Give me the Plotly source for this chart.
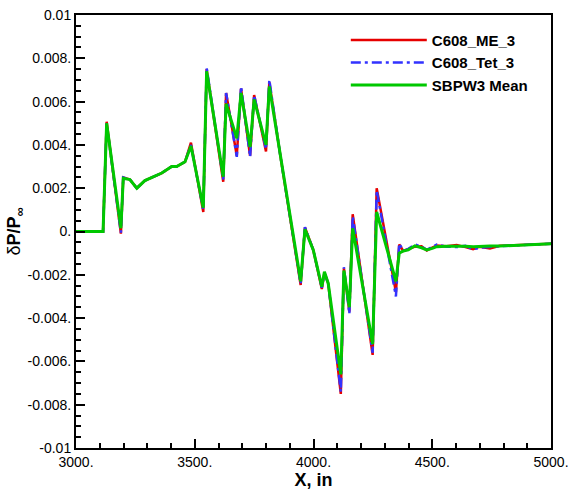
import plotly.graph_objects as go

# ---- data ----
x_pos = [3000, 3114, 3129, 3189, 3199, 3227, 3256, 3290, 3361, 3403,
         3424, 3459, 3484, 3536, 3550, 3620, 3632, 3677, 3695, 3733,
         3750, 3800, 3814, 3859, 3946, 3964, 3999, 4035, 4046, 4062,
         4115, 4128, 4151, 4165, 4249, 4266, 4347, 4361, 4378, 4399,
         4427, 4455, 4477, 4500, 4519, 4560, 4603, 4640, 4672, 4700,
         4743, 4785, 4850, 4900, 4950, 5000]

dp_me = [0, 0, 0.00507, -0.0001, 0.0025, 0.0024, 0.0020, 0.00235, 0.0027, 0.0030,
         0.0030, 0.00322, 0.0041, 0.0009, 0.0075, 0.0023, 0.0064, 0.0035, 0.0066, 0.0035,
         0.0063, 0.0037, 0.0069, 0.0036, -0.00247, 0.00019, -0.00085, -0.00266, -0.0019, -0.0024,
         -0.0075, -0.0017, -0.0037, 0.0008, -0.0057, 0.0020, -0.0028, -0.0006, -0.0009, -0.0008,
         -0.0007, -0.00068, -0.00088, -0.00075, -0.00065, -0.00068, -0.00062, -0.00072, -0.00082, -0.0007,
         -0.00078, -0.00066, -0.00064, -0.00062, -0.0006, -0.00057]

dp_tet = [0, 0, 0.0050, -0.00005, 0.0025, 0.0024, 0.0020, 0.00235, 0.0027, 0.0030,
          0.0030, 0.00322, 0.0040, 0.0010, 0.00757, 0.0024, 0.0064, 0.00345, 0.0067, 0.00345,
          0.0063, 0.0038, 0.0070, 0.0036, -0.0024, 0.0002, -0.00085, -0.0026, -0.0019, -0.0024,
          -0.0074, -0.00165, -0.0038, 0.0007, -0.0056, 0.0019, -0.0030, -0.00055, -0.0009, -0.0008,
          -0.0006, -0.0007, -0.00085, -0.0007, -0.0006, -0.0007, -0.00072, -0.00066, -0.00082, -0.00075,
          -0.0007, -0.00068, -0.00064, -0.00062, -0.0006, -0.00057]

dp_mean = [0, 0, 0.0050, 0.00015, 0.00246, 0.0024, 0.0020, 0.00235, 0.0027, 0.0030,
           0.0030, 0.00322, 0.00395, 0.0011, 0.0074, 0.00253, 0.0059, 0.0043, 0.0064, 0.0039,
           0.0061, 0.0040, 0.0067, 0.0036, -0.0023, 0.0001, -0.00085, -0.00255, -0.00186, -0.0024,
           -0.0066, -0.0018, -0.0035, 0.00015, -0.0052, 0.0009, -0.0023, -0.0010, -0.0009, -0.00085,
           -0.00066, -0.00075, -0.00085, -0.00078, -0.0007, -0.00068, -0.00067, -0.00068, -0.0007, -0.00068,
           -0.00067, -0.00067, -0.00064, -0.00062, -0.0006, -0.00057]

series_names = ["C608_ME_3", "C608_Tet_3", "SBPW3 Mean"]

x_tickvals = [3000, 3500, 4000, 4500, 5000]
x_ticktext = ["3000.", "3500.", "4000.", "4500.", "5000."]
y_tickvals = [-0.01, -0.008, -0.006, -0.004, -0.002, 0, 0.002, 0.004, 0.006, 0.008, 0.01]
y_ticktext = ["-0.01", "-0.008.", "-0.006.", "-0.004.", "-0.002.", "0.",
              "0.002.", "0.004.", "0.006.", "0.008.", "0.01"]

FONT = "Liberation Sans, Arial, sans-serif"

fig = go.Figure()
fig.add_trace(go.Scatter(x=x_pos, y=dp_me, mode="lines", name=series_names[0],
                         line=dict(color="#e60000", width=2.5)))
fig.add_trace(go.Scatter(x=x_pos, y=dp_tet, mode="lines", name=series_names[1],
                         line=dict(color="#3232ff", width=2.5, dash="10px,4px,3px,4px")))
fig.add_trace(go.Scatter(x=x_pos, y=dp_mean, mode="lines", name=series_names[2],
                         line=dict(color="#00c800", width=3)))

fig.update_layout(
    width=570, height=491,
    margin=dict(l=76, r=19, t=15, b=43),
    paper_bgcolor="white", plot_bgcolor="white",
    font=dict(family=FONT, size=14, color="black"),
    legend=dict(x=0.568, y=0.98, xanchor="left", yanchor="top",
                bgcolor="rgba(0,0,0,0)", borderwidth=0,
                font=dict(family=FONT, size=15, weight="bold"),
                itemwidth=76, tracegroupgap=0),
    xaxis=dict(range=[3000, 5000], tickmode="array", tickvals=x_tickvals, ticktext=x_ticktext,
               ticks="inside", ticklen=9, tickwidth=1.5, tickcolor="black",
               minor=dict(ticks="inside", dtick=100, ticklen=5, tickwidth=1.5, tickcolor="black"),
               showline=True, linewidth=2, linecolor="black", mirror=True,
               showgrid=False, zeroline=False, automargin=False,
               title=dict(text="<b>X, in</b>", font=dict(size=18), standoff=4)),
    yaxis=dict(range=[-0.01, 0.01], tickmode="array", tickvals=y_tickvals, ticktext=y_ticktext,
               ticks="inside", ticklen=9, tickwidth=1.5, tickcolor="black",
               minor=dict(ticks="inside", dtick=0.0005, ticklen=5, tickwidth=1.5, tickcolor="black"),
               showline=True, linewidth=2, linecolor="black", mirror=True,
               showgrid=False, zeroline=False, automargin=False,
               title=dict(text="δ<b>P/P<sub>∞</sub></b>", font=dict(size=18), standoff=2)),
)

fig.write_html("out.html")
